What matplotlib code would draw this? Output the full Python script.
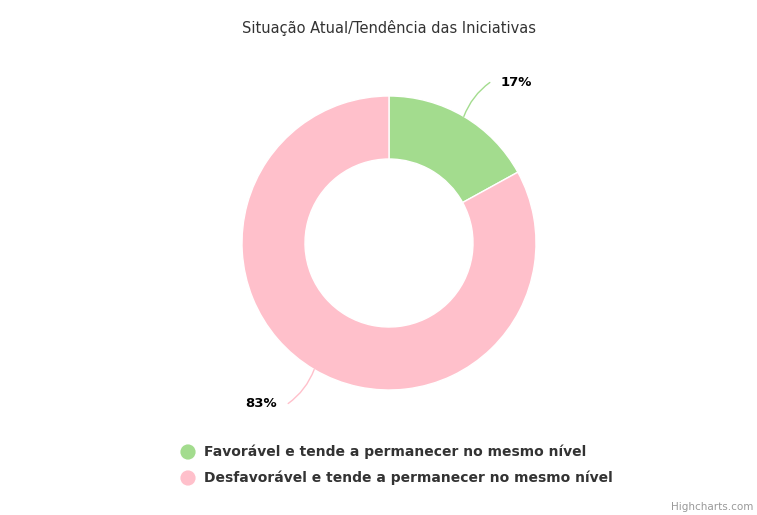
import numpy as np
import matplotlib.pyplot as plt

categories = ['Favorável e tende a permanecer no mesmo nível',
              'Desfavorável e tende a permanecer no mesmo nível']
values = [17, 83]
colors = ['#a3dc8e', '#ffc0cb']
title = 'Situação Atual/Tendência das Iniciativas'

W, H = 757, 515
fig = plt.figure(figsize=(W / 100, H / 100), dpi=100)
ax = fig.add_axes([0, 0, 1, 1])

cx, cy = 389, H - 243
r_out, r_in = 147, 84
wedges, _ = ax.pie(values, colors=colors, startangle=90, counterclock=False,
                   center=(cx, cy), radius=r_out, frame=True,
                   wedgeprops=dict(width=r_out - r_in, edgecolor='white', linewidth=1))
ax.set_xlim(0, W)
ax.set_ylim(0, H)
ax.set_aspect('equal')
ax.axis('off')

# data labels with connectors
total = sum(values)
for w, v, c in zip(wedges, values, colors):
    mid = np.deg2rad((w.theta1 + w.theta2) / 2)
    x0 = cx + r_out * np.cos(mid)
    y0 = cy + r_out * np.sin(mid)
    side = 1 if np.cos(mid) > 0 else -1
    up = np.sign(np.sin(mid))
    x1 = x0 + 26 * side
    y1 = y0 + 34 * up
    conn = 'arc3,rad=%.2f' % (0.15 * side * up)
    ax.annotate('', xy=(x0, y0), xytext=(x1, y1),
                arrowprops=dict(arrowstyle='-', color=c, lw=1,
                                connectionstyle=conn, shrinkA=0, shrinkB=0))
    ax.text(x1 + 11 * side, y1, '%d%%' % round(100 * v / total),
            ha='left' if side > 0 else 'right', va='center',
            fontsize=9.5, fontweight='bold', color='#000000')

fig.text(cx / W, 1 - 28 / H, title, ha='center', va='center',
         fontsize=10.5, color='#333333')

# legend
for i, (lab, c) in enumerate(zip(categories, colors)):
    y = H - (452 + 26 * i)
    ax.scatter([188], [y], s=120, color=c, edgecolors='none')
    ax.text(204, y, lab, ha='left', va='center', fontsize=10,
            fontweight='bold', color='#333333')

fig.text(1 - 4 / W, 1 - 507 / H, 'Highcharts.com', ha='right', va='center',
         fontsize=7.5, color='#999999')

fig.savefig('out.png', dpi=100, facecolor='white')
